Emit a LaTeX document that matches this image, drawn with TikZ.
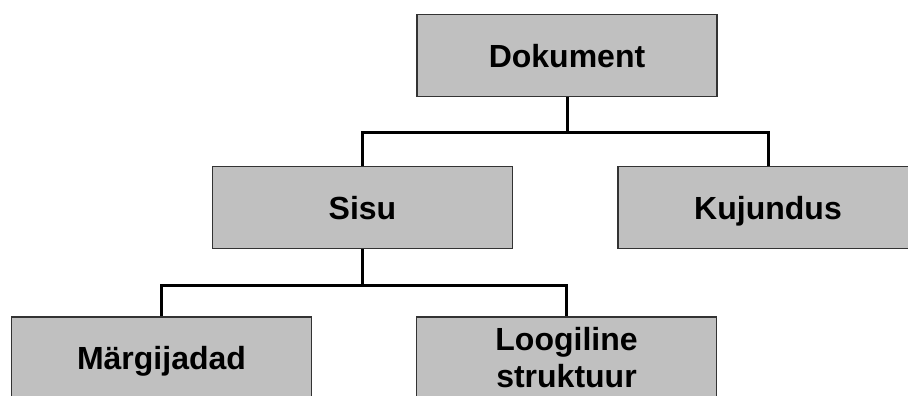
\documentclass[tikz,border=0pt]{standalone}
\usepackage{fontspec}
\setmainfont{Liberation Sans}
\definecolor{boxfill}{HTML}{C0C0C0}
\definecolor{boxline}{HTML}{333333}

\begin{document}
\begin{tikzpicture}[x=1pt, y=-1pt,
    box/.style={shape=rectangle, fill=boxfill, draw=boxline, line width=1.6pt,
      minimum width=300pt, minimum height=82pt, inner sep=0pt, align=center,
      font=\bfseries\fontsize{32}{37}\selectfont},
    onebox/.style={box, text height=23pt, text depth=0pt},
    link/.style={line width=3pt, color=black}]
    \useasboundingbox (0,0) rectangle (908,396);
    \clip (0,0) rectangle (908,396);

    \node at (567, 55.5) (dok) [onebox] {Dokument};

    \node at (362.5, 207.5) (sisu) [onebox] {Sisu};
    \node at (768, 207.5) (kuj) [onebox] {Kujundus};

    \node at (161.5, 358) (marg) [onebox] {Märgijadad};
    \node at (566.5, 358) (loog) [box] {Loogiline\\struktuur};

    \draw[link] (dok.south) -- ++(0,35) -| (sisu.north);
    \draw[link] (dok.south) -- ++(0,35) -| (kuj.north);
    \draw[link] (sisu.south) -- ++(0,36) -| (marg.north);
    \draw[link] (sisu.south) -- ++(0,36) -| (loog.north);
  \end{tikzpicture}
\end{document}
